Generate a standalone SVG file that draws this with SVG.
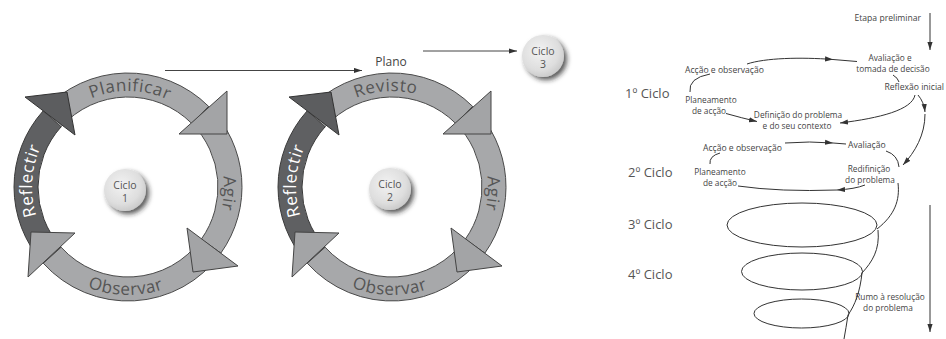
<svg xmlns="http://www.w3.org/2000/svg" xmlns:xlink="http://www.w3.org/1999/xlink" width="946" height="339" viewBox="0 0 946 339">
<style>
.bl{fill:#a7a8aa;stroke:#4a4a4a;stroke-width:1}
.bd{fill:#5f6062;stroke:#3a3a3a;stroke-width:1}
.hl{fill:#a3a4a6;stroke:#444;stroke-width:1;stroke-linejoin:miter}
.hd{fill:#5c5d5f;stroke:#333;stroke-width:1;stroke-linejoin:miter}
.lbl{font-family:"Open Sans","Liberation Sans",sans-serif;font-size:17px;fill:#555;letter-spacing:0.6px}
.lblw{font-family:"Open Sans","Liberation Sans",sans-serif;font-size:17px;fill:#ffffff;letter-spacing:0.6px}
.cc{font-family:"Open Sans","Liberation Sans",sans-serif;font-size:10.5px;fill:#555;text-anchor:middle}
.t{font-family:"Open Sans","Liberation Sans",sans-serif;font-size:8.6px;fill:#444}
.t2{font-family:"Open Sans","Liberation Sans",sans-serif;font-size:8.3px;fill:#444;text-anchor:middle}
.m{text-anchor:middle}
.cy{font-family:"Open Sans","Liberation Sans",sans-serif;font-size:13px;fill:#555}
.ln{fill:none;stroke:#333;stroke-width:1}
.el{fill:none;stroke:#333;stroke-width:1}
</style>
<defs>
<marker id="arr" markerUnits="userSpaceOnUse" markerWidth="9" markerHeight="6" refX="8" refY="3" orient="auto">
<path d="M0,0.4 L8,3 L0,5.6 Z" fill="#333"/>
</marker>
<radialGradient id="ball" cx="0.42" cy="0.38" r="0.65">
<stop offset="0" stop-color="#f2f2f2"/>
<stop offset="0.7" stop-color="#dedede"/>
<stop offset="1" stop-color="#c9c9c9"/>
</radialGradient>
<filter id="sh" x="-50%" y="-50%" width="200%" height="200%">
<feDropShadow dx="3" dy="3" stdDeviation="2.5" flood-color="#222" flood-opacity="0.75"/>
</filter>
<path id="pTop" d="M44.86,139 A96 96 0 0 1 211.14,139"/>
<path id="pRight" d="M176,103.86 A96 96 0 0 1 176,270.14"/>
<path id="pBottom" d="M34.47,241 A108 108 0 0 0 221.53,241"/>
<path id="pLeft" d="M80,270.14 A96 96 0 0 1 80,103.86"/>
</defs>
<rect width="946" height="339" fill="#ffffff"/>

<g id="cycle1">
<g id="c1-reflectir">
<path class="bd" d="M43.29,263.28 A114 114 0 0 1 43.29,110.72 L61.12,126.78 A90 90 0 0 0 61.12,247.22 Z"/>
</g>
<g id="c1-planificar">
<path class="bl" d="M43.29,110.72 A114 114 0 0 1 208.61,106.39 L191.64,123.36 A90 90 0 0 0 61.12,126.78 Z"/>
</g>
<g id="c1-agir">
<path class="bl" d="M208.61,106.39 A114 114 0 0 1 220.81,253.2 L201.27,239.26 A90 90 0 0 0 191.64,123.36 Z"/>
</g>
<g id="c1-observar">
<path class="bl" d="M220.81,253.2 A114 114 0 0 1 43.29,263.28 L61.12,247.22 A90 90 0 0 0 201.27,239.26 Z"/>
</g>
<polygon class="hd" points="25,97 67,92 75,135"/>
<polygon class="hl" points="179,134 227,91 227,134"/>
<polygon class="hl" points="187,228 238,266 193,272"/>
<polygon class="hl" points="75,233 28,277 31,232"/>
<text class="lbl"><textPath xlink:href="#pTop" href="#pTop" startOffset="51%" text-anchor="middle">Planificar</textPath></text>
<text class="lbl"><textPath xlink:href="#pRight" href="#pRight" startOffset="53%" text-anchor="middle">Agir</textPath></text>
<text class="lbl"><textPath xlink:href="#pBottom" href="#pBottom" startOffset="49%" text-anchor="middle">Observar</textPath></text>
<text class="lblw"><textPath xlink:href="#pLeft" href="#pLeft" startOffset="53%" text-anchor="middle">Reflectir</textPath></text>
</g>
<g id="ciclo1">
<circle cx="125" cy="190" r="21" fill="url(#ball)" filter="url(#sh)"/>
<text class="cc" x="125" y="189">Ciclo<tspan x="125" dy="13">1</tspan></text>
</g>

<g id="cycle2" transform="translate(264,0)">
<g id="c2-reflectir">
<path class="bd" d="M43.29,263.28 A114 114 0 0 1 43.29,110.72 L61.12,126.78 A90 90 0 0 0 61.12,247.22 Z"/>
</g>
<g id="c2-revisto">
<path class="bl" d="M43.29,110.72 A114 114 0 0 1 208.61,106.39 L191.64,123.36 A90 90 0 0 0 61.12,126.78 Z"/>
</g>
<g id="c2-agir">
<path class="bl" d="M208.61,106.39 A114 114 0 0 1 220.81,253.2 L201.27,239.26 A90 90 0 0 0 191.64,123.36 Z"/>
</g>
<g id="c2-observar">
<path class="bl" d="M220.81,253.2 A114 114 0 0 1 43.29,263.28 L61.12,247.22 A90 90 0 0 0 201.27,239.26 Z"/>
</g>
<polygon class="hd" points="25,97 67,92 75,135"/>
<polygon class="hl" points="179,134 227,91 227,134"/>
<polygon class="hl" points="187,228 238,266 193,272"/>
<polygon class="hl" points="75,233 28,277 31,232"/>
<text class="lbl"><textPath xlink:href="#pTop" href="#pTop" startOffset="47%" text-anchor="middle">Revisto</textPath></text>
<text class="lbl"><textPath xlink:href="#pRight" href="#pRight" startOffset="53%" text-anchor="middle">Agir</textPath></text>
<text class="lbl"><textPath xlink:href="#pBottom" href="#pBottom" startOffset="49%" text-anchor="middle">Observar</textPath></text>
<text class="lblw"><textPath xlink:href="#pLeft" href="#pLeft" startOffset="53%" text-anchor="middle">Reflectir</textPath></text>
</g>
<g id="ciclo2">
<circle cx="390" cy="189" r="21" fill="url(#ball)" filter="url(#sh)"/>
<text class="cc" x="390" y="188">Ciclo<tspan x="390" dy="13">2</tspan></text>
</g>
<g id="ciclo3">
<circle cx="543" cy="56" r="21" fill="url(#ball)" filter="url(#sh)"/>
<text class="cc" x="543" y="55">Ciclo<tspan x="543" dy="13">3</tspan></text>
</g>
<g id="plano">
<text x="391" y="66" font-family="'Open Sans','Liberation Sans',sans-serif" font-size="12" fill="#444" text-anchor="middle">Plano</text>
</g>

<g id="spiral-labels">
<text class="t" x="921" y="21" text-anchor="end">Etapa preliminar</text>
<text class="t2" x="890" y="60.5">Avaliação e<tspan x="893" dy="11">tomada de decisão</tspan></text>
<text class="t" x="685" y="73">Acção e observação</text>
<text class="cy" x="625" y="98">1º Ciclo</text>
<text class="t" x="944" y="90" text-anchor="end">Reflexão inicial</text>
<text class="t2" x="711" y="102.5">Planeamento<tspan x="709" dy="11">de acção</tspan></text>
<text class="t2" x="798" y="117.5">Definição do problema<tspan x="797" dy="11">e do seu contexto</tspan></text>
<text class="t" x="703" y="151">Acção e observação</text>
<text class="t" x="848" y="148">Avaliação</text>
<text class="cy" x="628" y="176.5">2º Ciclo</text>
<text class="t2" x="720" y="174.5">Planeamento<tspan x="720" dy="11">de acção</tspan></text>
<text class="t2" x="869" y="171.5">Redifinição<tspan x="870" dy="11">do problema</tspan></text>
<text class="cy" x="628" y="228.5">3º Ciclo</text>
<text class="cy" x="628" y="278.5">4º Ciclo</text>
<text class="t2" x="890" y="299.5">Rumo à resolução<tspan x="888" dy="11">do problema</tspan></text>
</g>

<g id="spiral-loops">
<ellipse class="el" cx="802" cy="225" rx="75" ry="22"/>
<ellipse class="el" cx="802" cy="271.5" rx="60.5" ry="18.5"/>
<ellipse class="el" cx="801.5" cy="313.5" rx="47.5" ry="14.5"/>
</g>

<g id="connectors">
<line x1="165" y1="70.5" x2="362" y2="70.5" stroke="#444" stroke-width="1" marker-end="url(#arr)"/>
<line x1="423" y1="51" x2="517" y2="51" stroke="#444" stroke-width="1" marker-end="url(#arr)"/>
<line class="ln" x1="930" y1="13" x2="930" y2="50" marker-end="url(#arr)"/>
<path class="ln" d="M747,64 C765,58 800,57 833,59.5" marker-end="url(#arr)"/>
<path class="ln" d="M833,59.5 L857,61.5"/>
<path class="ln" d="M893,75 Q898,78 899,82"/>
<path class="ln" d="M690,92 Q688,78 710,74"/>
<path class="ln" d="M726,113.5 Q742,118 757,121.5" marker-end="url(#arr)"/>
<path class="ln" d="M915,95 C912,110 880,118 840,123" marker-end="url(#arr)"/>
<path class="ln" d="M918,95 Q924,102 925,112" marker-end="url(#arr)"/>
<path class="ln" d="M925,114 C925,135 915,152 903,165" marker-end="url(#arr)"/>
<path class="ln" d="M785,143 Q810,141 833,143" marker-end="url(#arr)"/>
<path class="ln" d="M833,143 L846,144"/>
<path class="ln" d="M710,164 Q709,156 720,153"/>
<path class="ln" d="M886,151 Q898,155 899,167"/>
<path class="ln" d="M865,185 Q855,189 837,190" marker-end="url(#arr)"/>
<path class="ln" d="M837,190 Q780,192 738,186"/>
<path class="ln" d="M898,183 C900,200 895,215 877,229"/>
<path class="ln" d="M878,230 C880,250 872,262 862,273"/>
<path class="ln" d="M862,273 C860,292 855,305 848,315"/>
<path class="ln" d="M848,315 Q846,328 844,339"/>
<line class="ln" x1="930" y1="205" x2="930" y2="332" marker-end="url(#arr)"/>
</g>
</svg>
